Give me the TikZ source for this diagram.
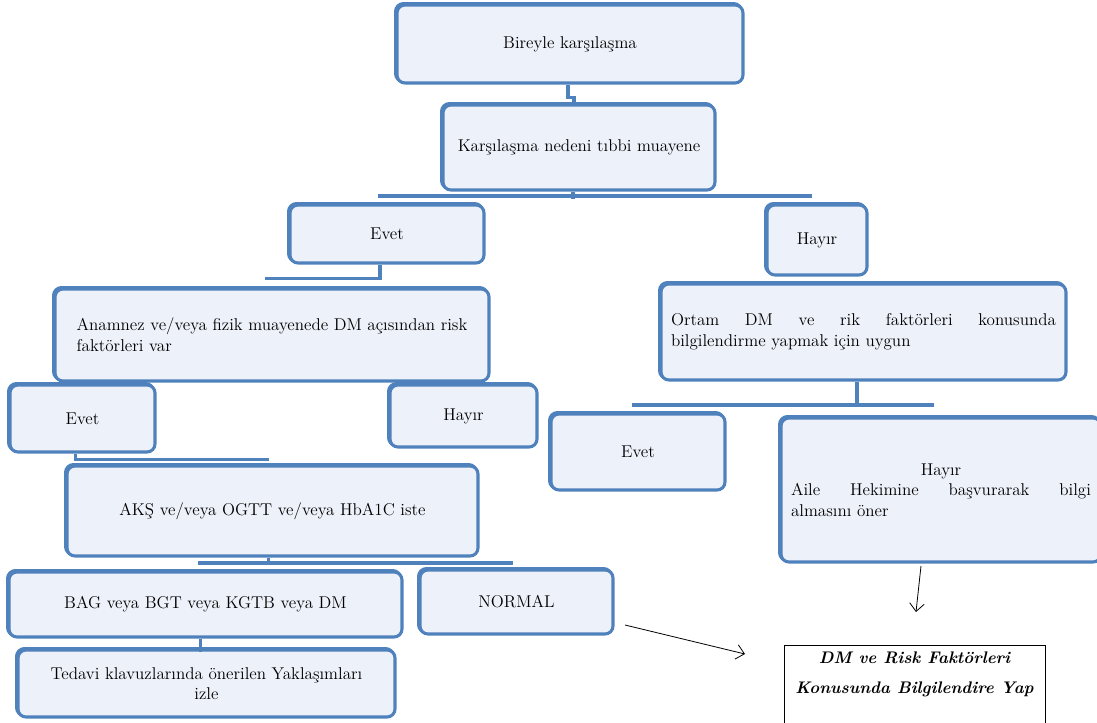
\documentclass[tikz,border=0pt]{standalone}
\usepackage{fontspec}
\usetikzlibrary{arrows.meta}
\definecolor{bblue}{RGB}{79,129,189}
\definecolor{bfill}{RGB}{237,241,249}
\newcommand\myboxfont{\fontsize{12.8}{15.5}\selectfont\addfontfeature{FakeBold=0.5}\tolerance=10000\relax\hyphenpenalty=10000\relax\parindent=0pt\relax}
\newcommand\myfinfont{\fontsize{12.6}{22.5}\selectfont\bfseries\itshape}
\tikzset{
  box/.style={draw=bblue, line width=2.3pt, fill=bfill, rounded corners=6pt, inner sep=2pt, font=\myboxfont,
    preaction={draw=bblue, line width=2.3pt, transform canvas={shift={(-1.1pt,1.1pt)}}}},
  sz/.style n args={2}{minimum width=#1*0.75pt, minimum height=#2*0.75pt},
  link/.style={draw=bblue, line width=2.6pt},
  arr/.style={draw=black, line width=0.6pt, -{Straight Barb[length=6pt,width=11pt]}},
  finbox/.style={draw=black, line width=0.7pt, fill=white, inner sep=0pt, align=center, font=\myfinfont}
}
\begin{document}
\begin{tikzpicture}[x=0.75pt,y=-0.75pt]
\useasboundingbox (0,0) rectangle (1097,722);

% boxes
\node[box, sz={346}{78}] (b1) at (570,44) {Bireyle karşılaşma};
\node[box, sz={272}{85}] (b2) at (579,147.5) {Karşılaşma nedeni tıbbi muayene};
\node[box, sz={194}{58}] (e1) at (387,234) {Evet};
\node[box, sz={100}{70}] (h1) at (817,240) {Hayır};
\node[box, sz={434}{92}, align=left] (an) at (272,335) {Anamnez ve/veya fizik muayenede DM açısından risk\\faktörleri var};
\node[box, sz={145}{67}] (e2) at (82.5,418.5) {Evet};
\node[box, sz={147}{62}] (h2) at (463.5,416) {Hayır};
\node[box, sz={411}{90}] (ak) at (272.5,511) {AKŞ ve/veya OGTT ve/veya HbA1C iste};
\node[box, sz={393}{65}] (bag) at (205.5,604.5) {BAG veya BGT veya KGTB veya DM};
\node[box, sz={193}{64}] (nor) at (516.5,602) {NORMAL};
\node[box, sz={377}{67}, align=center] (ted) at (206.5,683.5) {Tedavi klavuzlarında önerilen Yaklaşımları\\izle};
\node[box, sz={405}{96}, text width=288.75pt, align=justify] (or) at (863.5,332)
  {Ortam DM ve rik faktörleri konusunda\linebreak bilgilendirme yapmak için uygun};
\node[box, sz={174}{76}] (e3) at (638,452) {Evet};
\node[box, sz={320}{144}, text width=225pt, align=justify] (h3) at (941,490)
  {\makebox[\hsize]{Hayır}\par Aile Hekimine başvurarak bilgi\linebreak almasını öner};
\node[finbox, sz={261}{85}] (fin) at (914.5,687.5) {DM ve Risk Faktörleri\\Konusunda Bilgilendire Yap\\\mbox{}};

% tree connectors
\draw[link] (b1.south) ++(-2,0) -- ++(0,13) -- ++(6,0) -- ++(0,6);
\draw[link] (b2.south) ++(-6,0) -- ++(0,7);
\coordinate (tl) at (378,196);
\coordinate (tr) at (812,196);
\draw[link] (tl) -- (tr);
\draw[link] (e1.south) ++(-7,0) -- ++(0,14) -- ++(-115,0);
\draw[link] (e2.south) ++(-7,0) -- ++(0,6) -- ++(193,0);
\draw[link] (ak.south) ++(-4,0) -- ++(0,7);
\coordinate (al) at (198,563);
\coordinate (ar) at (513,563);
\draw[link] (al) -- (ar);
\draw[link] (bag.south) ++(-5,0) -- ++(0,13);
\draw[link] (or.south) ++(-6.5,0) -- ++(0,25);
\coordinate (ol) at (632,405);
\coordinate (orr) at (934,405);
\draw[link] (ol) -- (orr);

% arrows
\coordinate (a1s) at (921,566);
\coordinate (a1e) at (916,612);
\draw[arr] (a1s) -- (a1e);
\coordinate (a2s) at (625,625);
\coordinate (a2e) at (745,654);
\draw[arr] (a2s) -- (a2e);
\end{tikzpicture}
\end{document}
